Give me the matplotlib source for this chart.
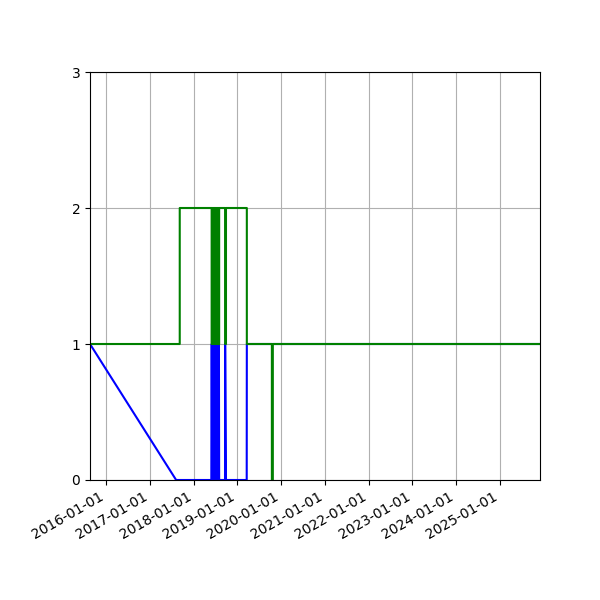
import numpy as np
import pandas as pd
import matplotlib
matplotlib.use("Agg")
import matplotlib.pyplot as plt
import matplotlib.dates as mdates

plt.rcParams["path.simplify"] = False

# shared time axis for both series
dates = pd.to_datetime([
    "2015-08-20", "2017-08-08", "2017-09-07",
    "2018-05-30", "2018-06-01", "2018-06-03", "2018-06-05", "2018-06-07",
    "2018-06-09", "2018-06-11", "2018-06-13", "2018-06-15", "2018-06-17",
    "2018-06-19", "2018-06-21", "2018-06-23", "2018-06-25", "2018-06-27",
    "2018-06-29", "2018-07-01", "2018-07-03", "2018-07-05", "2018-07-07",
    "2018-07-09", "2018-07-11", "2018-07-13", "2018-07-15", "2018-07-17",
    "2018-07-19", "2018-07-21", "2018-07-23", "2018-07-25", "2018-07-27",
    "2018-07-29", "2018-07-31", "2018-08-02",
    "2018-09-20", "2018-09-21", "2018-09-28",
    "2019-03-20", "2019-03-21",
    "2019-10-16", "2019-10-24", "2025-12-01",
])

blue_vals = [1, 0, 0,
             0, 1, 0, 1, 0, 1, 0, 1, 0, 1, 0, 1, 0, 1, 0, 1, 0,
             1, 0, 1, 0, 1, 0, 1, 0, 1, 0, 1, 0, 1, 0, 1, 0,
             0, 1, 0,
             0, 1,
             1, 1, 1]

green_vals = [1, 1, 2,
              2, 1, 2, 1, 2, 1, 2, 1, 2, 1, 2, 1, 2, 1, 2, 1, 2,
              1, 2, 1, 2, 1, 2, 1, 2, 1, 2, 1, 2, 1, 2, 1, 2,
              2, 1, 2,
              2, 1,
              0, 1, 1]

fig, ax = plt.subplots(figsize=(6, 6), dpi=100)

ax.plot(dates, blue_vals, color="blue", lw=1.5, snap=False)
ax.plot(dates, green_vals, color="green", lw=1.5, drawstyle="steps-post", snap=False)

ax.set_xlim(dates[0], dates[-1])
ax.set_ylim(0, 3)
ax.set_yticks([0, 1, 2, 3])
ax.xaxis.set_major_locator(mdates.YearLocator())
ax.xaxis.set_major_formatter(mdates.DateFormatter("%Y-%m-%d"))
ax.grid(True)
fig.autofmt_xdate()
fig.subplots_adjust(left=0.15, right=0.9, top=0.88, bottom=0.2)

fig.savefig("out.png", dpi=100)
